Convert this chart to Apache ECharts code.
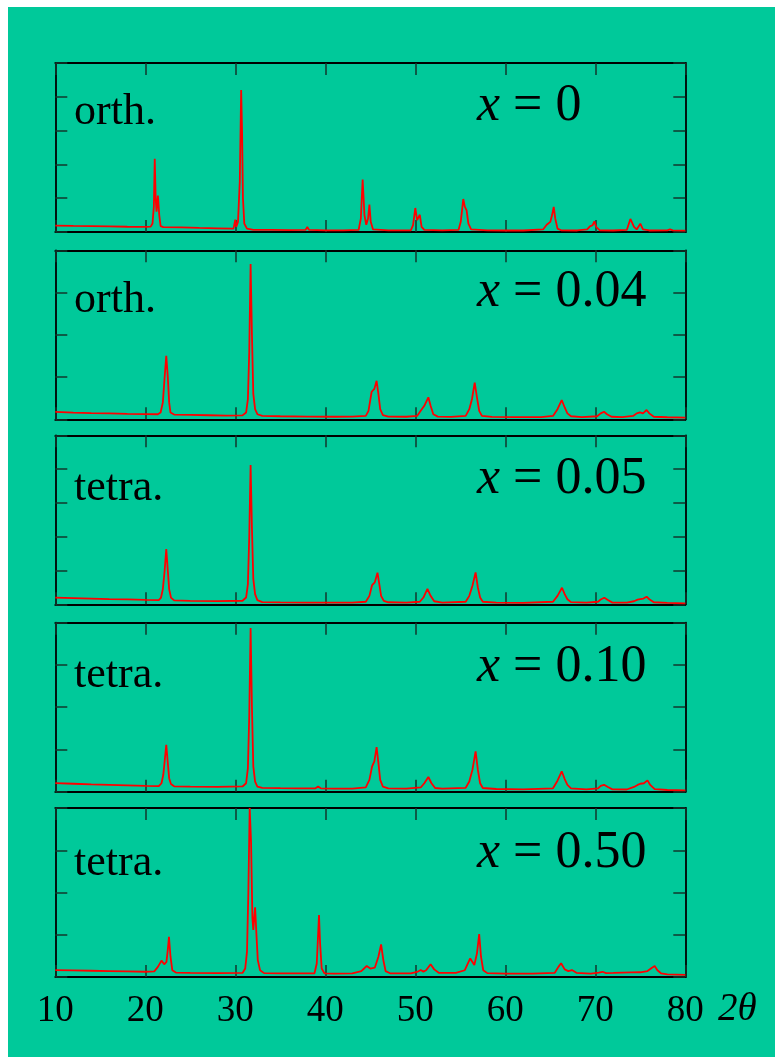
<!DOCTYPE html>
<html>
<head>
<meta charset="utf-8">
<script src="https://cdn.jsdelivr.net/npm/echarts@6/dist/echarts.min.js"></script>
<style>
html,body{margin:0;padding:0;background:#fff;}
#main{width:775px;height:1057px;}
</style>
</head>
<body>
<div id="main"></div>
<script>
// XRD patterns, [2theta, intensity in % of panel height]
var xTicks = [10, 20, 30, 40, 50, 60, 70, 80];
var phases = ['orth.', 'orth.', 'tetra.', 'tetra.', 'tetra.'];
var xLabels = ['0', '0.04', '0.05', '0.10', '0.50'];
var yIntervals = [20, 25, 20, 25, 25];

var p0 = [
    [10,3.8],[12,3.6],[14,3.5],[16,3.3],[18,3.1],[20,3.0],[20.6,3.2],[20.8,5],[20.95,15],[21.05,43.4],[21.15,20],[21.25,12],
    [21.4,21.5],[21.55,10],[21.7,3.5],[22,2.9],[24,2.7],[26,2.4],[28,2.2],[29.8,2.0],[30.0,7.3],[30.1,3],[30.3,6],[30.5,30],
    [30.65,84],[30.75,60],[30.85,20],[31.0,5],[31.3,2],[32,1.3],[34,1.2],[36,1.1],[37.8,1.2],[38.0,3.0],[38.2,1.2],[40,1.0],
    [42,1.0],[43.7,1.2],[43.95,8],[44.15,31.1],[44.35,10],[44.55,4.3],[44.75,8],[44.9,16.2],[45.05,6],[45.3,1.5],[47,1.0],
    [49.5,1.0],[49.75,4],[50.0,14.2],[50.2,7],[50.35,8],[50.5,10.2],[50.7,3],[51,1.2],[53,1.0],[54.8,1.2],[55.05,6],
    [55.33,19.5],[55.5,15],[55.7,12.8],[55.9,5],[56.2,1.5],[58,1.0],[60,0.9],[62,0.9],[64.2,1.5],[64.6,4.3],[65.0,6],
    [65.2,10],[65.38,14.8],[65.55,8],[65.8,2],[66.2,1.0],[68,0.9],[69.1,1.5],[69.4,3.3],[69.7,4],[69.9,6.3],[70.1,3],
    [70.5,1.0],[72,0.9],[73.5,1.2],[73.9,7.7],[74.3,3],[74.6,1.5],[75.0,4.9],[75.3,1.5],[76,0.9],[78,1.0],[78.3,1.6],
    [78.6,1.0],[80,0.8]
];
var p04 = [
    [10,4.4],[12,4.0],[14,3.7],[16,3.5],[18,3.2],[20,3.1],[21.4,3.0],[21.7,4],[21.95,10],[22.15,25],[22.33,37.5],[22.5,25],
    [22.65,10],[22.8,4],[23.2,2.8],[25,2.6],[27,2.4],[29,2.2],[30.8,2.3],[31.2,4],[31.4,12],[31.55,40],[31.7,91.9],[31.85,50],
    [32.0,15],[32.2,6],[32.45,3],[33,2.0],[35,1.8],[38,1.6],[41,1.5],[43,1.6],[44.5,2],[44.8,5],[45.15,16.3],[45.45,18],
    [45.7,22.8],[45.9,15],[46.1,6],[46.4,2.5],[47,1.6],[49,1.5],[50.2,2],[50.6,5],[51.0,8],[51.45,13.0],[51.7,8],[52.0,3],
    [52.5,1.6],[54,1.4],[55.6,2],[56.0,6],[56.3,12],[56.6,21.7],[56.85,13],[57.1,5],[57.4,2],[58.5,1.4],[61,1.3],[64,1.3],
    [65.3,2],[65.8,6],[66.27,11.4],[66.6,7],[66.9,3.5],[67.3,1.8],[68.5,1.3],[70.2,1.8],[70.6,3.5],[70.97,4.5],[71.3,3],
    [71.8,1.5],[73,1.3],[74.2,2],[74.6,3.5],[74.97,4.1],[75.3,3.5],[75.7,5.5],[76.0,3.5],[76.5,1.5],[78,1.2],[80,1.0]
];
var p05 = [
    [10,4.0],[12,3.7],[14,3.4],[16,3.1],[18,2.9],[20,2.6],[21.5,2.5],[21.75,4],[21.95,9],[22.15,20],[22.33,32.7],[22.5,20],
    [22.65,9],[22.85,4],[23.2,2.3],[25,2.0],[28,1.9],[30.8,2.1],[31.2,4],[31.4,12],[31.55,40],[31.7,82.4],[31.85,45],[32.0,15],
    [32.2,6],[32.45,2.5],[33,1.3],[35,1.1],[38,1.0],[41,1.0],[43,1.0],[44.5,1.5],[44.9,5],[45.2,11.4],[45.5,13],[45.8,18.7],
    [46.0,12],[46.2,5],[46.5,2],[47,1.2],[49,1.0],[50.5,1.5],[50.9,4],[51.35,9.1],[51.7,5],[52.1,1.8],[53,1.0],[55.6,1.5],
    [56.0,5],[56.35,11],[56.7,18.9],[56.95,10],[57.2,4],[57.5,1.5],[59,1.0],[62,0.9],[65.3,1.5],[65.8,5],[66.3,9.8],[66.6,6],
    [66.9,3],[67.3,1.3],[69,1.0],[70.3,1.5],[70.6,2.8],[71.0,3.9],[71.4,2.5],[71.9,1.0],[73.5,1.0],[74.3,1.8],[74.7,2.8],
    [75.0,3.1],[75.35,3.4],[75.7,4.5],[76.0,3],[76.5,1.2],[78,0.8],[80,0.6]
];
var p10 = [
    [10,5.1],[12,4.7],[14,4.3],[16,4.0],[18,3.7],[20,3.4],[21.5,3.3],[21.8,5],[22.0,10],[22.15,18],[22.33,27.8],[22.5,17],
    [22.65,8],[22.85,4.5],[23.2,3.2],[25,3.0],[28,2.9],[30.8,3.1],[31.2,5],[31.4,14],[31.55,45],[31.7,96.8],[31.85,50],
    [32.0,15],[32.2,6],[32.45,3],[33,2.3],[35,2.1],[37,2.0],[38.9,2.0],[39.2,3.0],[39.5,2.0],[41,1.8],[43,1.8],[44.5,2.5],
    [44.9,7],[45.2,15],[45.45,18],[45.7,26.4],[45.9,17],[46.1,7],[46.4,3],[47,2.0],[49,1.8],[50.6,2.5],[51.0,5],[51.45,8.7],
    [51.8,5],[52.2,2.2],[53,1.8],[55.6,2.3],[56.0,6],[56.35,13],[56.7,23.9],[56.95,13],[57.2,5],[57.5,2.2],[59,1.6],[62,1.4],
    [65.3,2],[65.8,6.5],[66.27,12],[66.6,7.5],[66.9,4],[67.3,2],[69,1.4],[70.3,2],[70.6,3.5],[70.97,4.1],[71.4,2.8],
    [71.9,1.4],[73.5,1.3],[74.3,2.8],[74.7,4],[75.0,4.7],[75.4,5],[75.8,6.7],[76.1,4],[76.6,1.5],[78,1.0],[80,0.8]
];
var p50 = [
    [10,4.1],[12,3.9],[14,3.7],[16,3.5],[18,3.3],[20,3.1],[21.0,3.3],[21.4,6],[21.8,9.7],[22.1,7.5],[22.35,9],[22.5,16],
    [22.63,23.8],[22.8,12],[23.0,4],[23.4,2.6],[25,2.4],[28,2.3],[30.8,2.4],[31.1,5],[31.3,15],[31.45,50],[31.6,100],
    [31.75,80],[31.9,35],[32.0,27.8],[32.1,35],[32.2,41.2],[32.35,25],[32.5,10],[32.75,4],[33.2,2.3],[35,2.2],[37,2.1],
    [38.8,2.2],[39.05,8],[39.2,25],[39.3,36.7],[39.42,20],[39.6,5],[39.9,2.2],[41,2.0],[43,2.1],[44.0,3.5],[44.6,6.5],
    [45.0,5],[45.5,5.5],[45.9,12],[46.2,19.3],[46.45,10],[46.7,3.5],[47.2,2.2],[49.5,2.2],[50.2,3],[50.6,4.1],[50.9,3.2],
    [51.2,4],[51.7,7.5],[52.1,4.5],[52.6,2.5],[54.5,2.4],[55.5,4],[56.1,11],[56.56,7.1],[56.85,14],[57.1,25.4],[57.3,12],
    [57.55,4],[58,2.3],[60,2.0],[63,2.0],[65.5,2.5],[65.9,6],[66.2,8.1],[66.6,4.5],[67.0,3.5],[67.4,4.1],[67.9,2.5],
    [69.5,2.0],[70.4,2.6],[70.8,3.1],[71.2,2.3],[72,2.4],[73,2.6],[74,2.7],[75,2.8],[75.8,3.5],[76.3,5.5],[76.6,6.5],
    [76.9,4],[77.3,2.2],[78,1.5],[80,1.2]
];
var patterns = [p0, p04, p05, p10, p50];

var chart = echarts.init(document.getElementById('main'));

var tops = [63, 250.3, 435.3, 622.7, 808];
var phaseDy = [49.5, 50.5, 53, 53, 55.5];
var xDy = [43, 42, 44, 44.5, 45.5];
var FONT = 'Liberation Serif';
var grids = [], xAxes = [], yAxes = [], series = [], texts = [];

function tickStyle(len) {
    return {show: true, inside: true, length: len, lineStyle: {color: '#12372c', width: 1.5}};
}
function lineStyle() {
    return {show: true, onZero: false, lineStyle: {color: '#000', width: 1.8}};
}

$each = function (arr, fn) { for (var i = 0; i < arr.length; i++) fn(i, arr[i]); };

$each(patterns, function (i, data) {
    grids.push({left: 55.3, width: 630, top: tops[i], height: 169});
    var last = i == patterns.length - 1;
    xAxes.push({
        gridIndex: i, type: 'value', min: 10, max: 80, interval: 10, position: 'bottom',
        axisLine: lineStyle(), axisTick: tickStyle(12), splitLine: {show: false},
        axisLabel: {show: last, margin: 16, color: '#000', fontFamily: FONT, fontSize: 37}
    });
    xAxes.push({
        gridIndex: i, type: 'value', min: 10, max: 80, interval: 10, position: 'top',
        axisLine: lineStyle(), axisTick: tickStyle(12), splitLine: {show: false}, axisLabel: {show: false}
    });
    yAxes.push({
        gridIndex: i, type: 'value', min: 0, max: 100, interval: yIntervals[i], position: 'left',
        axisLine: lineStyle(), axisTick: tickStyle(12), splitLine: {show: false}, axisLabel: {show: false}
    });
    yAxes.push({
        gridIndex: i, type: 'value', min: 0, max: 100, interval: yIntervals[i], position: 'right',
        axisLine: lineStyle(), axisTick: tickStyle(12), splitLine: {show: false}, axisLabel: {show: false}
    });
    series.push({
        type: 'line', xAxisIndex: i * 2, yAxisIndex: i * 2, data: data,
        showSymbol: false, symbol: 'none', clip: true,
        lineStyle: {color: '#ff0000', width: 1.8}, z: 3
    });
    texts.push({
        type: 'text', x: 74, y: tops[i] + phaseDy[i], z: 10,
        style: {text: phases[i], fill: '#000', fontFamily: FONT, fontSize: 44,
            align: 'left', verticalAlign: 'middle', textAlign: 'left', textVerticalAlign: 'middle'}
    });
    texts.push({
        type: 'text', x: 477, y: tops[i] + xDy[i], z: 10,
        style: {text: '{i|x} = ' + xLabels[i], fill: '#000', fontFamily: FONT, fontSize: 52,
            align: 'left', verticalAlign: 'middle', textAlign: 'left', textVerticalAlign: 'middle',
            rich: {i: {fontStyle: 'italic', fontFamily: FONT, fontSize: 52, fill: '#000'}}}
    });
});

// white margins and the 2θ axis name
texts.push({type: 'rect', shape: {x: 0, y: 0, width: 8, height: 1057}, style: {fill: '#fff'}, z: 20});
texts.push({type: 'rect', shape: {x: 0, y: 0, width: 775, height: 7}, style: {fill: '#fff'}, z: 20});
texts.push({
    type: 'text', x: 718, y: 1010, z: 10,
    style: {text: '2θ', fill: '#000', fontFamily: FONT, fontSize: 39, fontStyle: 'italic',
        align: 'left', verticalAlign: 'middle', textAlign: 'left', textVerticalAlign: 'middle'}
});

option = {
    backgroundColor: '#00c99a',
    animation: false,
    grid: grids,
    xAxis: xAxes,
    yAxis: yAxes,
    series: series,
    graphic: texts
};
chart.setOption(option);
</script>
</body>
</html>
